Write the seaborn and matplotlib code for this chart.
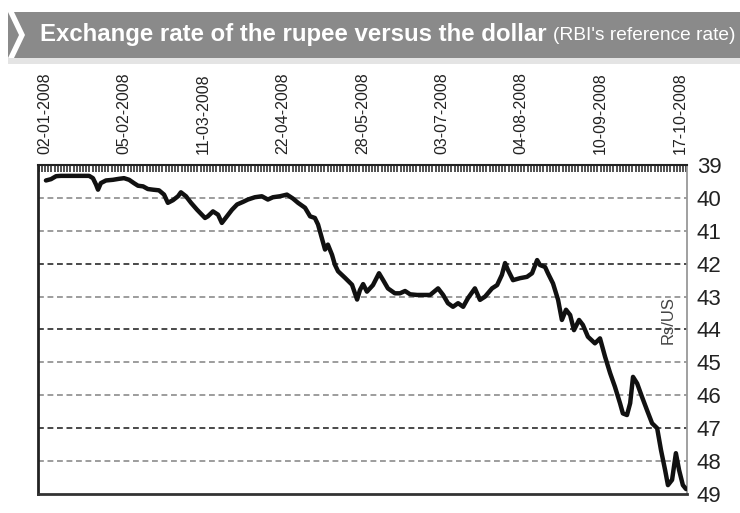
import matplotlib
matplotlib.use("Agg")
import matplotlib.pyplot as plt
import matplotlib.ticker as ticker
from matplotlib.patches import Polygon, Rectangle
import seaborn as sns
import pandas as pd

# --- Data ---

TITLE_MAIN = "Exchange rate of the rupee versus the dollar"
TITLE_SUB = "(RBI's reference rate)"
Y_LABEL = "Rs/US"

DATE_TICKS = [0, 25, 50, 75, 100, 125, 150, 175, 200]
DATE_LABELS = ["02-01-2008", "05-02-2008", "11-03-2008", "22-04-2008", "28-05-2008",
               "03-07-2008", "04-08-2008", "10-09-2008", "17-10-2008"]
Y_TICKS = [39, 40, 41, 42, 43, 44, 45, 46, 47, 48, 49]
DARK_GRID = [42, 44, 47]

# trading day index (0 = 02-01-2008) and Rs per US$
TRADING_DAY = [0.3, 1.9, 3.5, 5.0, 7.6, 10.7, 13.9, 15.1, 16.1, 16.7, 17.6, 19.2, 21.4, 23.3, 24.9,
               26.5, 28.0, 29.3, 30.9, 32.4, 34.0, 35.9, 37.5, 38.7, 40.3, 41.9, 42.8, 44.4, 46.0,
               47.9, 50.4, 51.3, 52.9, 54.5, 55.7, 57.3, 58.9, 60.5, 62.4, 63.9, 66.1, 68.3, 70.2,
               71.8, 74.0, 76.2, 78.1, 79.7, 81.9, 83.5, 85.0, 86.0, 87.2, 88.2, 89.1, 90.4, 91.3,
               92.3, 94.5, 96.7, 98.3, 99.2, 100.2, 101.4, 103.3, 105.2, 106.5, 108.0, 110.2, 111.8,
               113.4, 115.0, 117.2, 119.1, 121.3, 123.8, 125.4, 126.9, 128.5, 130.1, 131.7, 133.2,
               135.4, 137.0, 138.6, 140.8, 142.4, 143.9, 144.9, 145.8, 147.4, 149.6, 151.8, 153.4,
               155.0, 155.9, 157.5, 158.4, 160.0, 161.6, 162.8, 164.1, 165.4, 166.6, 168.2, 169.4,
               171.0, 173.2, 174.8, 176.4, 178.0, 179.5, 181.1, 182.0, 183.3, 184.3, 185.2, 186.5,
               188.0, 189.6, 191.2, 192.8, 194.0, 195.3, 196.2, 197.5, 198.7, 199.7, 200.9, 201.9]
RATE = [39.47, 39.43, 39.34, 39.33, 39.33, 39.33, 39.33, 39.40, 39.60, 39.75, 39.55, 39.47, 39.45,
        39.42, 39.40, 39.45, 39.55, 39.63, 39.65, 39.73, 39.75, 39.77, 39.90, 40.15, 40.07, 39.95,
        39.83, 39.95, 40.15, 40.36, 40.61, 40.56, 40.41, 40.51, 40.76, 40.56, 40.36, 40.20, 40.12,
        40.05, 39.98, 39.95, 40.05, 39.98, 39.95, 39.90, 40.02, 40.15, 40.30, 40.56, 40.61, 40.81,
        41.22, 41.57, 41.42, 41.73, 42.03, 42.23, 42.43, 42.64, 43.09, 42.80, 42.62, 42.85, 42.65,
        42.29, 42.50, 42.75, 42.90, 42.90, 42.83, 42.93, 42.95, 42.95, 42.95, 42.75, 42.95, 43.20,
        43.31, 43.20, 43.31, 43.05, 42.75, 43.10, 43.00, 42.75, 42.65, 42.34, 41.98, 42.19, 42.50,
        42.44, 42.40, 42.29, 41.89, 42.04, 42.10, 42.29, 42.60, 43.10, 43.71, 43.40, 43.56, 44.02,
        43.71, 43.86, 44.22, 44.42, 44.27, 44.83, 45.33, 45.74, 46.24, 46.55, 46.60, 46.24, 45.44,
        45.64, 46.04, 46.45, 46.85, 47.00, 47.66, 48.27, 48.73, 48.57, 47.76, 48.27, 48.73, 48.85]

FONT = ['Liberation Sans', 'DejaVu Sans']

W, H = 740, 513


def fx(px):
    return px / W


def fy(py):
    # pixel row measured from the top
    return 1 - py / H


def fit_width(fig, txt, target_px):
    # scale the font so the text spans target_px
    r = fig.canvas.get_renderer()
    w = txt.get_window_extent(renderer=r).width
    txt.set_fontsize(txt.get_fontsize() * target_px / w)


def run():
    df = pd.DataFrame({'day': TRADING_DAY, 'rate': RATE})

    sns.set_theme(style="white")
    plt.rcParams['font.family'] = FONT

    fig = plt.figure(figsize=(W / 100, H / 100), dpi=100)
    fig.patch.set_facecolor('white')

    # title banner
    fig.patches.append(Rectangle((fx(8), fy(58)), fx(732), 46 / H, transform=fig.transFigure,
                                 facecolor='#8a8a8a', edgecolor='none'))
    fig.patches.append(Rectangle((fx(8), fy(64)), fx(732), 6 / H, transform=fig.transFigure,
                                 facecolor='#e4e4e4', edgecolor='none'))
    chevron = [(8, 12), (14, 12), (25, 35), (14, 58), (8, 58), (19, 35)]
    fig.patches.append(Polygon([(fx(a), fy(b)) for a, b in chevron], closed=True,
                               transform=fig.transFigure, facecolor='white', edgecolor='none'))

    t1 = fig.text(fx(40), fy(35), TITLE_MAIN, color='white', fontsize=18, fontweight='bold',
                  va='center', ha='left')
    fit_width(fig, t1, 508)
    t2 = fig.text(fx(553), fy(36), TITLE_SUB, color='white', fontsize=13,
                  va='center', ha='left')
    fit_width(fig, t2, 182)

    ax = fig.add_axes([fx(38), fy(494), fx(649), 329 / H])
    ax.set_facecolor('white')

    for v in Y_TICKS[1:-1]:
        dark = v in DARK_GRID
        ax.axhline(v, color='#2a2a2a' if dark else '#8c8c8c', linewidth=1.2,
                   linestyle=(0, (3.5, 2.2)), zorder=1)

    sns.lineplot(data=df, x='day', y='rate', color='#111111', linewidth=3.2, ax=ax,
                 zorder=3, solid_joinstyle='round', solid_capstyle='round')

    ax.set_xlim(-2.2, 202.2)
    ax.set_ylim(49, 39)

    ax.xaxis.tick_top()
    ax.set_xticks(DATE_TICKS)
    ax.set_xticklabels(DATE_LABELS, rotation=90, fontsize=11.5, color='#222222')
    ax.xaxis.set_minor_locator(ticker.MultipleLocator(1))
    ax.tick_params(axis='x', which='both', direction='in', length=5, width=1.1, color='#222222',
                   top=True, bottom=False, pad=8)

    ax.yaxis.tick_right()
    ax.set_yticks(Y_TICKS)
    ax.set_yticklabels([str(v) for v in Y_TICKS], fontsize=16, color='#222222')
    ax.tick_params(axis='y', length=0, pad=7, right=True, left=False)

    ax.set_xlabel("")
    ax.set_ylabel("")
    ax.text(0.971, 0.529, Y_LABEL, transform=ax.transAxes, rotation=90, ha='center', va='center',
            fontsize=12, color='#444444')

    for side, lw, col in [('left', 2.0, '#222222'), ('bottom', 2.0, '#333333'),
                          ('top', 1.5, '#222222'), ('right', 1.3, '#999999')]:
        ax.spines[side].set_visible(True)
        ax.spines[side].set_linewidth(lw)
        ax.spines[side].set_color(col)

    fig.savefig('out.png', dpi=100)
    plt.close(fig)


if __name__ == "__main__":
    run()
